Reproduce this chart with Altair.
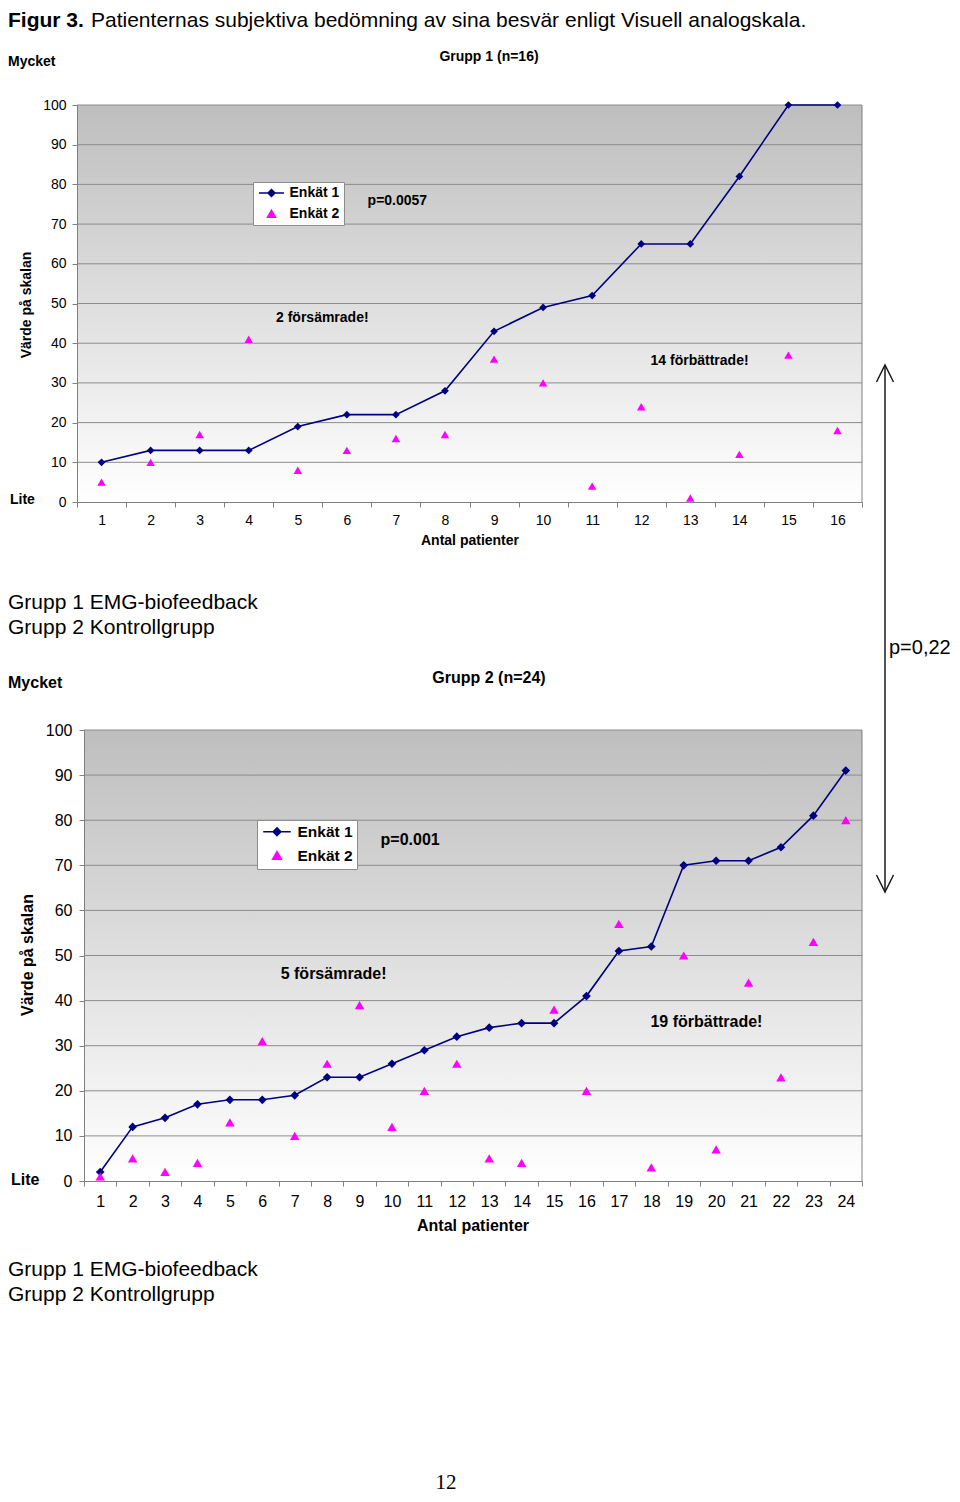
import altair as alt
import pandas as pd

FONT = "Liberation Sans, Arial, Helvetica, sans-serif"
SERIF = "Liberation Serif, Times New Roman, serif"
AX = "#808080"
GRID = "#8c8c8c"

# ---- data ----
series = ["Enkät 1", "Enkät 2"]
series_colors = ["#000080", "#ff00ff"]

patients_g1 = list(range(1, 17))
enkat1_g1 = [10, 13, 13, 13, 19, 22, 22, 28, 43, 49, 52, 65, 65, 82, 100, 100]
enkat2_g1 = [5, 10, 17, 41, 8, 13, 16, 17, 36, 30, 4, 24, 1, 12, 37, 18]

patients_g2 = list(range(1, 25))
enkat1_g2 = [2, 12, 14, 17, 18, 18, 19, 23, 23, 26, 29, 32, 34, 35, 35, 41, 51, 52, 70, 71, 71, 74, 81, 91]
enkat2_g2 = [1, 5, 2, 4, 13, 31, 10, 26, 39, 12, 20, 26, 5, 4, 38, 20, 57, 3, 50, 7, 44, 23, 53, 80]

y_ticks = list(range(0, 101, 10))
grid_values = list(range(10, 101, 10))

one = pd.DataFrame({"k": [0]})

gradient = alt.LinearGradient(
    gradient="linear",
    stops=[alt.GradientStop(color="#bebebe", offset=0), alt.GradientStop(color="#ffffff", offset=1)],
    x1=0, x2=0, y1=0, y2=1,
)

# legend glyphs (line with diamond / triangle), drawn with strokes only
LEG_E1 = ("M-1,0L4,0M1.5,-0.7L2.2,0L1.5,0.7L0.8,0Z"
          "M1.5,-0.35L1.85,0L1.5,0.35L1.15,0ZM1.5,-0.6L1.5,0.6")
LEG_E2 = ("M1.5,-0.75L2.3,0.65L0.7,0.65Z"
          "M1.5,-0.3L1.9,0.45L1.1,0.45ZM1.5,-0.6L1.5,0.6")


def panel(pats, e1, e2, xr, yr, x_off, y_off, fs, lpx, lpy, dsize, tsize,
          leg_x, leg_y, leg_fs, leg_size, leg_offset, notes):
    n = len(pats)
    df = pd.DataFrame({"pat": pats + pats, "val": e1 + e2,
                       "serie": [series[0]] * n + [series[1]] * n})
    xs = alt.Scale(domain=[0.5, n + 0.5], range=xr, nice=False, zero=False)
    ys = alt.Scale(domain=[0, 100], range=yr, nice=False, zero=False)
    cs = alt.Scale(domain=series, range=series_colors)
    ss = alt.Scale(domain=series, range=[LEG_E1, LEG_E2])
    xvals = [i / 2 for i in range(1, 2 * n + 2)]

    x_axis = alt.Axis(
        orient="bottom", offset=x_off, values=xvals, title=None, grid=False,
        labelExpr="datum.value % 1 === 0 ? format(datum.value, 'd') : ''",
        tickOpacity={"condition": {"test": "datum.value % 1 !== 0", "value": 1}, "value": 0},
        tickSize=5, tickColor=AX, domainColor=AX, labelPadding=lpx,
        labelFontSize=fs, labelFont=FONT, labelColor="black",
        labelOverlap=False, labelFlush=False, zindex=1,
    )
    y_axis = alt.Axis(
        orient="left", offset=y_off, values=y_ticks, format="d", title=None, grid=False,
        tickSize=5, tickColor=AX, domainColor=AX, labelPadding=lpy,
        labelFontSize=fs, labelFont=FONT, labelColor="black", zindex=1,
    )
    legend = alt.Legend(
        title=None, orient="none", legendX=leg_x, legendY=leg_y,
        fillColor="white", strokeColor="#8c8c8c", padding=4, rowPadding=7,
        labelFont=FONT, labelFontSize=leg_fs, labelFontWeight="bold", labelColor="black",
        labelOffset=leg_offset, symbolSize=leg_size, symbolStrokeWidth=1.5,
    )

    def X(field):
        return alt.X(field, scale=xs, axis=x_axis)

    def Y(field):
        return alt.Y(field, scale=ys, axis=y_axis)

    def XD(v):
        return alt.XDatum(v, type="quantitative", scale=xs, axis=x_axis)

    def YD(v):
        return alt.YDatum(v, type="quantitative", scale=ys, axis=y_axis)

    base = alt.Chart(df)
    # legend carrier (no visible marks) - first so its legend settings win
    leg = base.transform_filter("false").mark_point(filled=False, opacity=1, strokeWidth=1.5).encode(
        x=X("pat:Q"), y=Y("val:Q"),
        color=alt.Color("serie:N", scale=cs, legend=legend),
        shape=alt.Shape("serie:N", scale=ss, legend=legend),
    )
    bg = alt.Chart(one).mark_rect(fill=gradient).encode(
        x=XD(0.5), x2=alt.X2Datum(n + 0.5), y=YD(0), y2=alt.Y2Datum(100),
    )
    grid = alt.Chart(pd.DataFrame({"g": grid_values})).mark_rule(color=GRID, strokeWidth=1).encode(
        y=Y("g:Q"), x=XD(0.5), x2=alt.X2Datum(n + 0.5),
    )
    right = alt.Chart(one).mark_rule(color=AX, strokeWidth=1).encode(
        x=XD(n + 0.5), y=YD(0), y2=alt.Y2Datum(100),
    )
    line = base.transform_filter(alt.datum.serie == series[0]).mark_line(strokeWidth=1.6).encode(
        x=X("pat:Q"), y=Y("val:Q"),
        color=alt.Color("serie:N", scale=cs, legend=None),
    )
    diam = base.transform_filter(alt.datum.serie == series[0]).mark_point(
        shape="diamond", filled=True, size=dsize, opacity=1).encode(
        x=X("pat:Q"), y=Y("val:Q"),
        color=alt.Color("serie:N", scale=cs, legend=None),
    )
    tri = base.transform_filter(alt.datum.serie == series[1]).mark_point(
        shape="triangle-up", filled=True, size=tsize, opacity=1).encode(
        x=X("pat:Q"), y=Y("val:Q"),
        color=alt.Color("serie:N", scale=cs, legend=None),
    )
    layers = [leg, bg, grid, right, line, diam, tri]
    for t, nx, ny in notes:
        layers.append(
            alt.Chart(one).mark_text(text=t, font=FONT, fontSize=fs, fontWeight="bold",
                                     color="black", align="center", baseline="middle").encode(
                x=XD(nx), y=YD(ny),
            )
        )
    return alt.layer(*layers)


H = 1486
top = panel(patients_g1, enkat1_g1, enkat2_g1, [69, 854], [494, 97],
            -(H - 494), -69, 14, 6, 6, 60, 72,
            245, 174, 14, 100, 18.5,
            [("p=0.0057", 7.03, 75.8), ("2 försämrade!", 5.5, 46.3), ("14 förbättrade!", 13.19, 35.5)])
bottom = panel(patients_g2, enkat1_g2, enkat2_g2, [76, 854], [1173, 722],
               -(H - 1173), -76, 16, 7, 7, 75, 90,
               249, 812, 15.5, 121, 21,
               [("p=0.001", 10.56, 75.6), ("5 försämrade!", 8.2, 45.9), ("19 förbättrade!", 19.7, 35.3)])


def ptext(t, x, y, fs, weight="normal", align="left", angle=0, font=FONT):
    kw = dict(text=t, font=font, fontSize=fs, fontWeight=weight, color="black",
              align=align, baseline="middle")
    if angle:
        kw["angle"] = angle
    return alt.Chart(one).mark_text(**kw).encode(x=alt.value(x), y=alt.value(y))


annots = [
    ptext("Figur 3.", 0, 13, 21, "bold"),
    ptext("Patienternas subjektiva bedömning av sina besvär enligt Visuell analogskala.", 83, 13, 21),
    ptext("Mycket", 0, 54, 14, "bold"),
    ptext("Grupp 1 (n=16)", 481, 49, 14, "bold", "center"),
    ptext("Lite", 2, 492, 14, "bold"),
    ptext("Antal patienter", 462, 533, 14, "bold", "center"),
    ptext("Värde på skalan", 19, 297, 14, "bold", "center", 270),
    ptext("Grupp 1 EMG-biofeedback", 0, 595, 21),
    ptext("Grupp 2 Kontrollgrupp", 0, 620, 21),
    ptext("Mycket", 0, 675, 16, "bold"),
    ptext("Grupp 2 (n=24)", 481, 670, 16, "bold", "center"),
    ptext("Lite", 3, 1172, 16, "bold"),
    ptext("Antal patienter", 465, 1218, 16, "bold", "center"),
    ptext("Värde på skalan", 20, 947, 16, "bold", "center", 270),
    ptext("Grupp 1 EMG-biofeedback", 0, 1262, 21),
    ptext("Grupp 2 Kontrollgrupp", 0, 1287, 21),
    ptext("p=0,22", 881, 640, 20),
    ptext("12", 438, 1475, 21, "normal", "center", 0, SERIF),
    alt.Chart(one).mark_rule(color="#1a1a1a", strokeWidth=1.5).encode(
        x=alt.value(877), y=alt.value(357), y2=alt.value(884)),
    alt.Chart(one).mark_point(shape="M-1,1L0,-1L1,1", filled=False, size=289, color="#1a1a1a",
                              strokeWidth=1.5, opacity=1).encode(x=alt.value(877), y=alt.value(365.5)),
    alt.Chart(one).mark_point(shape="M-1,-1L0,1L1,-1", filled=False, size=289, color="#1a1a1a",
                              strokeWidth=1.5, opacity=1).encode(x=alt.value(877), y=alt.value(875.5)),
]

chart = alt.layer(top, bottom, *annots).resolve_scale(
    x="independent", y="independent", color="independent", shape="independent"
).properties(
    width=944, height=H, padding=0,
    autosize=alt.AutoSizeParams(type="none"),
).configure_view(strokeWidth=0)

chart.save("out.html", embed_options={"renderer": "svg", "actions": False})
